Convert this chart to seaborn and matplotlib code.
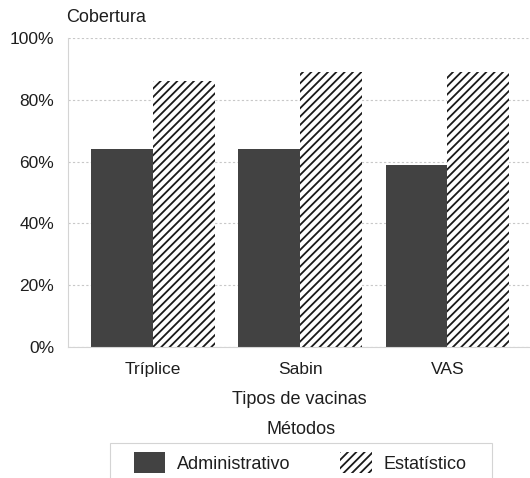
import pandas as pd
import matplotlib
matplotlib.use('Agg')
import matplotlib.pyplot as plt
from matplotlib.patches import Patch, Rectangle
import seaborn as sns

# data
vacinas = ['Tríplice', 'Sabin', 'VAS']
metodos = ['Administrativo', 'Estatístico']
administrativo = [64, 64, 59]
estatistico = [86, 89, 89]
yticks = [0, 20, 40, 60, 80, 100]

df = pd.DataFrame({
    'vacina': vacinas * 2,
    'metodo': [metodos[0]] * 3 + [metodos[1]] * 3,
    'cobertura': administrativo + estatistico,
})

sns.set_style('white')
plt.rcParams['font.family'] = ['Liberation Sans', 'DejaVu Sans']
plt.rcParams['hatch.linewidth'] = 1.3
plt.rcParams['hatch.color'] = '#1a1a1a'

dark = '#424242'
txt = '#1e1e1e'
W, H = 530, 478

fig = plt.figure(figsize=(5.3, 4.78), dpi=100)
ax = fig.add_axes([68 / W, 1 - 347 / H, 1 - 68 / W, (347 - 38) / H])

sns.barplot(data=df, x='vacina', y='cobertura', hue='metodo',
            palette=[dark, 'white'], width=0.84, gap=0, saturation=1,
            edgecolor='none', linewidth=0, legend=False, ax=ax)

# hatch on the second series
for bar in ax.containers[1]:
    bar.set_hatch('////')
    bar.set_edgecolor('#1a1a1a')
    bar.set_linewidth(0)

ax.set_ylim(0, 100)
ax.set_xlim(-0.575, 2.56)
ax.set_yticks(yticks)
ax.set_yticklabels([f'{t}%' for t in yticks], fontsize=12.5, color=txt)
ax.tick_params(axis='x', labelsize=12.5, labelcolor=txt, length=0, pad=11)
ax.tick_params(axis='y', length=0, pad=10)
ax.yaxis.grid(True, linestyle=(0, (2, 2)), color='#c8c8c8', linewidth=0.8)
ax.set_axisbelow(True)
for s in ['top', 'right']:
    ax.spines[s].set_visible(False)
for s in ['left', 'bottom']:
    ax.spines[s].set_color('#d4d4d4')
    ax.spines[s].set_linewidth(0.8)

ax.set_ylabel('')
ax.set_xlabel('Tipos de vacinas', fontsize=13, color=txt, labelpad=10)
fig.text(66 / W, 1 - 18 / H, 'Cobertura', fontsize=13, color=txt,
         ha='left', va='center')
fig.text(301 / W, 1 - 430 / H, 'Métodos', fontsize=13, color=txt,
         ha='center', va='center')

# legend frame (open at the bottom, cut by the figure edge)
fig.patches.append(Rectangle((110 / W, -0.05), (492 - 110) / W, 0.05 + 1 - 443 / H,
                             transform=fig.transFigure, facecolor='none',
                             edgecolor='#d4d4d4', linewidth=0.8))

handles = [Patch(facecolor=dark, edgecolor='none'),
           Patch(facecolor='white', edgecolor='#1a1a1a', hatch='////', linewidth=0)]
leg = fig.legend(handles, metodos, loc='upper center', ncol=2,
                 bbox_to_anchor=(300 / W, 1 - 452 / H),
                 fontsize=13, frameon=False,
                 handlelength=1.75, handleheight=1.45, handletextpad=0.65,
                 columnspacing=2.75, borderpad=0, borderaxespad=0)
for t in leg.get_texts():
    t.set_color(txt)

fig.savefig('out.png', dpi=100)
